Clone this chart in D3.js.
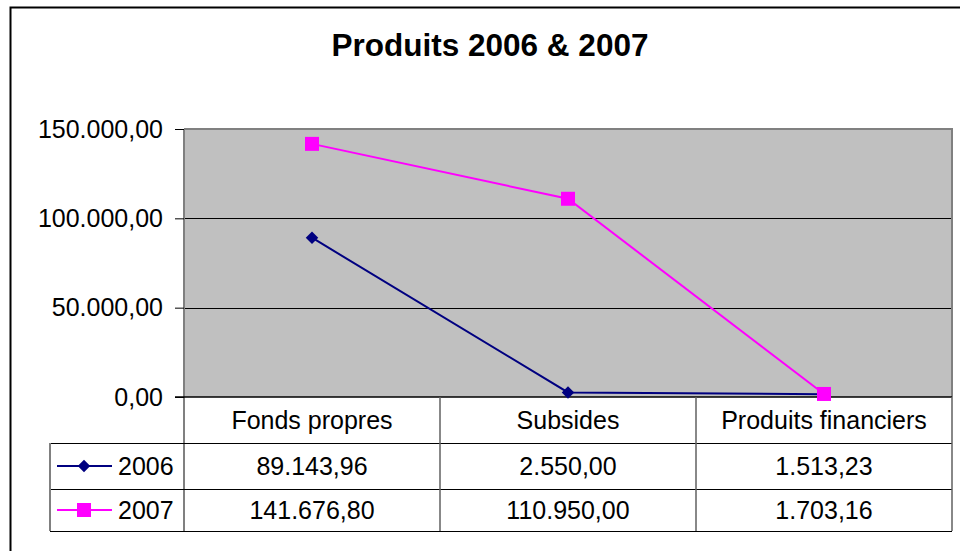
<!DOCTYPE html>
<html>
<head>
<meta charset="utf-8">
<script src="https://cdn.jsdelivr.net/npm/d3@7"></script>
<style>
  body { margin: 0; background: #fff; }
  svg { display: block; font-family: "Liberation Sans", Arial, sans-serif; }
</style>
</head>
<body>
<div id="chart"></div>
<script>
// chart data
const categories = ['Fonds propres', 'Subsides', 'Produits financiers'];
const seriesNames = ['2006', '2007'];
const values2006 = [89143.96, 2550.00, 1513.23];
const values2007 = [141676.80, 110950.00, 1703.16];
const yTicks = [0, 50000, 100000, 150000];

const width = 960, height = 551;
const plot = { left: 184, right: 952, top: 129, bottom: 397 };
const legendLeft = 50;
const rowBottoms = [443, 489, 531];

const locale = d3.formatLocale({ decimal: ',', thousands: '.', grouping: [3], currency: ['', ''] });
const fmt = locale.format(',.2f');

const series = [
    { name: seriesNames[0], values: values2006, color: '#000080', marker: 'diamond' },
    { name: seriesNames[1], values: values2007, color: '#FF00FF', marker: 'square' }
];

const svg = d3.select('#chart')
    .append('svg')
    .attr('width', width)
    .attr('height', height);

// outer chart border
svg.append('rect')
    .attr('x', 10.5).attr('y', 7.5)
    .attr('width', 1000).attr('height', 1000)
    .attr('fill', 'none')
    .attr('stroke', '#000')
    .attr('stroke-width', 2);

// title
svg.append('text')
    .attr('x', 490).attr('y', 56)
    .attr('text-anchor', 'middle')
    .attr('font-size', 31.5)
    .attr('font-weight', 'bold')
    .text('Produits 2006 & 2007');

const x = d3.scaleBand().domain(categories).range([plot.left, plot.right]);
const y = d3.scaleLinear().domain([0, 150000]).range([plot.bottom, plot.top]);
const cx = c => x(c) + x.bandwidth() / 2;

// plot area
svg.append('rect')
    .attr('x', plot.left).attr('y', plot.top)
    .attr('width', plot.right - plot.left)
    .attr('height', plot.bottom - plot.top)
    .attr('fill', '#C0C0C0');

// gridlines
svg.append('g')
    .selectAll('line')
    .data(yTicks.filter(t => t > 0 && t < 150000))
    .join('line')
    .attr('x1', plot.left).attr('x2', plot.right)
    .attr('y1', d => Math.round(y(d)) + 0.5).attr('y2', d => Math.round(y(d)) + 0.5)
    .attr('stroke', '#000')
    .attr('stroke-width', 1);

// plot border (top and right)
svg.append('path')
    .attr('d', `M${plot.left},${plot.top} H${plot.right} V${plot.bottom}`)
    .attr('fill', 'none')
    .attr('stroke', '#808080')
    .attr('stroke-width', 2);

// y axis
const yAxis = svg.append('g')
    .attr('transform', `translate(${plot.left},0)`)
    .call(d3.axisLeft(y).tickValues(yTicks).tickFormat(fmt).tickSize(9).tickPadding(12));
yAxis.select('.domain').attr('stroke', '#808080').attr('stroke-width', 2)
    .attr('d', `M0,${plot.top}V${rowBottoms[2]}`);
yAxis.selectAll('.tick line').attr('stroke', '#000');
yAxis.selectAll('.tick text')
    .attr('font-size', 25)
    .attr('font-family', '"Liberation Sans", Arial, sans-serif')
    .attr('fill', '#000');

// data table
const table = svg.append('g');
// horizontal rules
table.selectAll('line.h')
    .data(rowBottoms)
    .join('line')
    .attr('class', 'h')
    .attr('x1', legendLeft).attr('x2', plot.right)
    .attr('y1', d => d + 0.5).attr('y2', d => d + 0.5)
    .attr('stroke', '#000');
// bottom axis line
table.append('line')
    .attr('x1', plot.left - 9).attr('x2', plot.right)
    .attr('y1', plot.bottom).attr('y2', plot.bottom)
    .attr('stroke', '#000').attr('stroke-width', 1.5);
// vertical rules
const colEdges = categories.map(c => x(c)).slice(1).concat([plot.right]);
table.selectAll('line.v')
    .data(colEdges)
    .join('line')
    .attr('class', 'v')
    .attr('x1', d => d).attr('x2', d => d)
    .attr('y1', plot.bottom).attr('y2', rowBottoms[2])
    .attr('stroke', '#606060').attr('stroke-width', 1.5);
table.append('line')
    .attr('x1', legendLeft).attr('x2', legendLeft)
    .attr('y1', rowBottoms[0]).attr('y2', rowBottoms[2])
    .attr('stroke', '#808080').attr('stroke-width', 2);

// category labels
table.selectAll('text.cat')
    .data(categories)
    .join('text')
    .attr('class', 'cat')
    .attr('x', d => cx(d))
    .attr('y', (plot.bottom + rowBottoms[0]) / 2 + 9)
    .attr('text-anchor', 'middle')
    .attr('font-size', 25)
    .text(d => d);

// value rows + legend keys
const rowTops = [rowBottoms[0], rowBottoms[1]];
const markerPath = (type) => type === 'diamond'
    ? d3.symbol().type(d3.symbolDiamond2).size(100)()
    : 'M-7,-7H7V7H-7Z';

series.forEach((s, i) => {
    const mid = (rowTops[i] + rowBottoms[i + 1]) / 2;
    table.selectAll(null)
        .data(categories)
        .join('text')
        .attr('x', d => cx(d))
        .attr('y', mid + 9)
        .attr('text-anchor', 'middle')
        .attr('font-size', 25)
        .text((d, j) => fmt(s.values[j]));

    table.append('line')
        .attr('x1', 57).attr('x2', 112)
        .attr('y1', mid).attr('y2', mid)
        .attr('stroke', s.color).attr('stroke-width', 2);
    table.append('path')
        .attr('d', markerPath(s.marker))
        .attr('transform', `translate(84,${mid})`)
        .attr('fill', s.color);
    table.append('text')
        .attr('x', 118).attr('y', mid + 9)
        .attr('font-size', 25)
        .text(s.name);
});

// lines and markers
const line = d3.line()
    .x((d, j) => cx(categories[j]))
    .y(d => y(d));

series.forEach(s => {
    const g = svg.append('g');
    g.append('path')
        .datum(s.values)
        .attr('d', line)
        .attr('fill', 'none')
        .attr('stroke', s.color)
        .attr('stroke-width', 2);
    g.selectAll('path.m')
        .data(s.values)
        .join('path')
        .attr('class', 'm')
        .attr('d', markerPath(s.marker))
        .attr('transform', (d, j) => `translate(${cx(categories[j])},${y(d)})`)
        .attr('fill', s.color);
});
</script>
</body>
</html>
